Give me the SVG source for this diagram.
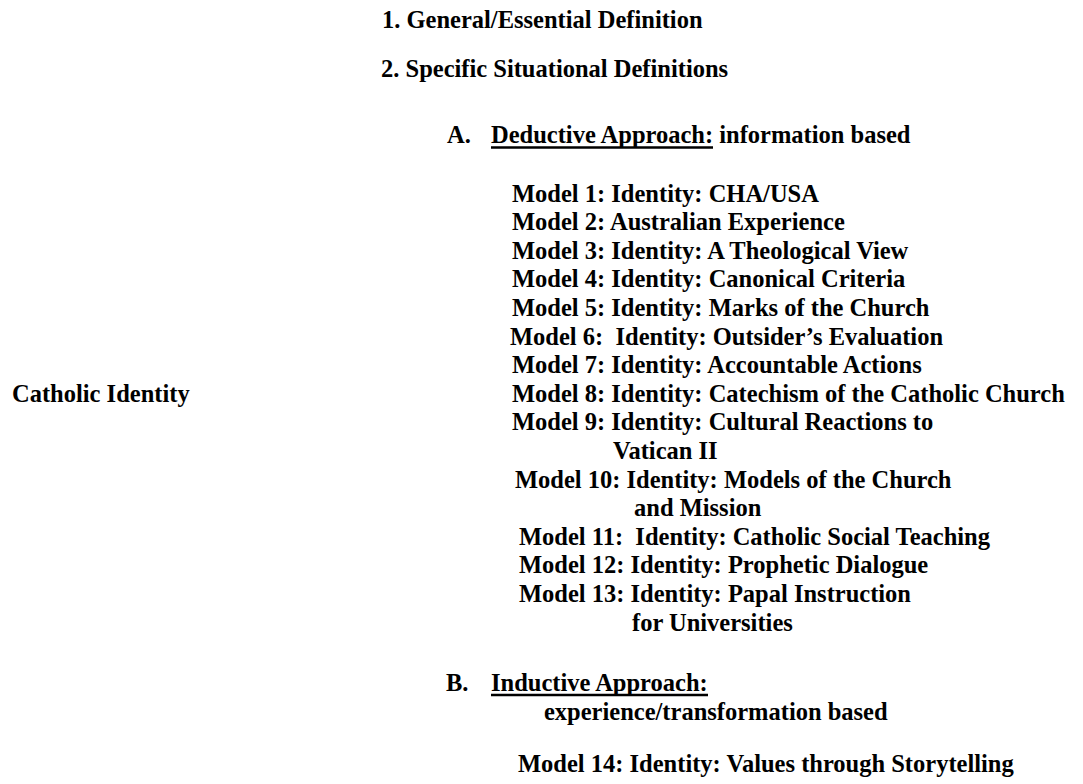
<svg xmlns="http://www.w3.org/2000/svg" width="1083" height="784" viewBox="0 0 1083 784">
<style>
text{font-family:"Liberation Serif","Times New Roman",serif;font-weight:bold;font-size:24.5px;fill:#000;white-space:pre}
.ul{stroke:#000;stroke-width:2.4}
</style>
<rect width="1083" height="784" fill="#fff"/>
<g id="root"><text x="12" y="402">Catholic Identity</text></g>
<g id="def1"><text x="382" y="28">1. General/Essential Definition</text></g>
<g id="def2"><text x="381" y="77">2. Specific Situational Definitions</text></g>
<g id="approachA">
<text x="447" y="143">A.</text>
<text x="491" y="143">Deductive Approach: information based</text>
<line class="ul" x1="491" y1="147.5" x2="713" y2="147.5"/>
</g>
<g id="models">
<text x="512" y="201.5">Model 1: Identity: CHA/USA</text>
<text x="512" y="230.1">Model 2: Australian Experience</text>
<text x="512" y="258.7">Model 3: Identity: A Theological View</text>
<text x="512" y="287.3">Model 4: Identity: Canonical Criteria</text>
<text x="512" y="315.9">Model 5: Identity: Marks of the Church</text>
<text x="510" y="344.5">Model 6:  Identity: Outsider’s Evaluation</text>
<text x="512" y="373.1">Model 7: Identity: Accountable Actions</text>
<text x="512" y="401.7">Model 8: Identity: Catechism of the Catholic Church</text>
<text x="512" y="430.3">Model 9: Identity: Cultural Reactions to</text>
<text x="613" y="458.9">Vatican II</text>
<text x="515" y="487.5">Model 10: Identity: Models of the Church</text>
<text x="634" y="516.1">and Mission</text>
<text x="519" y="544.7">Model 11:  Identity: Catholic Social Teaching</text>
<text x="519" y="573.3">Model 12: Identity: Prophetic Dialogue</text>
<text x="519" y="601.9">Model 13: Identity: Papal Instruction</text>
<text x="632" y="630.5">for Universities</text>
</g>
<g id="approachB">
<text x="446" y="691">B.</text>
<text x="491" y="691">Inductive Approach:</text>
<line class="ul" x1="491" y1="695" x2="708" y2="695"/>
<text x="544" y="719.5">experience/transformation based</text>
<text x="518" y="772">Model 14: Identity: Values through Storytelling</text>
</g>
<g id="connectors"></g>
</svg>
